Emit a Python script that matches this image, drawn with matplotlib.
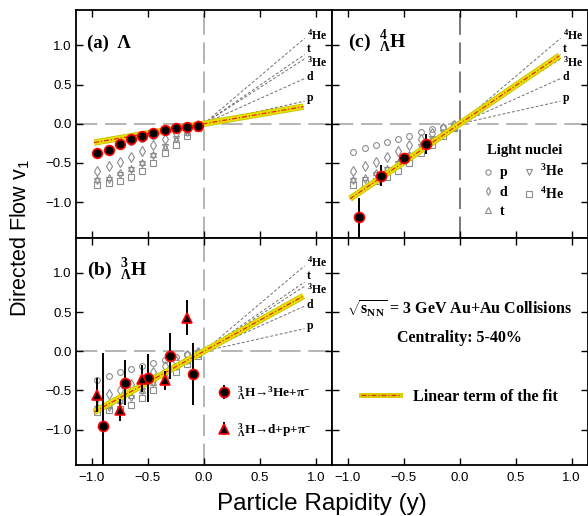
import matplotlib
matplotlib.use('Agg')
import matplotlib.pyplot as plt
from matplotlib.lines import Line2D
import numpy as np

plt.rcParams['mathtext.fontset'] = 'custom'
plt.rcParams['mathtext.rm'] = 'Liberation Serif:bold'
plt.rcParams['mathtext.it'] = 'Liberation Serif:bold'
plt.rcParams['mathtext.bf'] = 'Liberation Serif:bold'
plt.rcParams['mathtext.sf'] = 'Liberation Sans'
plt.rcParams['font.family'] = ['Liberation Sans', 'DejaVu Sans']

# ---------------- data ----------------
rapidity = [-0.95, -0.85, -0.75, -0.65, -0.55, -0.45, -0.35, -0.25, -0.15, -0.05]
lambda_v1 = [-0.37, -0.33, -0.26, -0.20, -0.16, -0.12, -0.085, -0.06, -0.04, -0.025]

nuclei_names = ['p', 'd', 't', '$^{3}$He', '$^{4}$He']
p_v1 = [-0.36, -0.31, -0.27, -0.23, -0.19, -0.15, -0.11, -0.07, -0.035, -0.005]
d_v1 = [-0.60, -0.54, -0.49, -0.42, -0.35, -0.27, -0.19, -0.12, -0.05, -0.01]
t_v1 = [-0.70, -0.68, -0.62, -0.56, -0.49, -0.39, -0.29, -0.19, -0.11, -0.04]
he3_v1 = [-0.73, -0.72, -0.65, -0.59, -0.51, -0.41, -0.30, -0.20, -0.12, -0.04]
he4_v1 = [-0.78, -0.75, -0.73, -0.68, -0.60, -0.50, -0.37, -0.27, -0.16, -0.06]

# reference slopes for light nuclei (dashed lines)
ref_slope_p, ref_slope_d, ref_slope_t, ref_slope_he3, ref_slope_he4 = 0.32, 0.64, 0.98, 0.92, 1.21
ref_y_range = [0.0, 0.9]

# 3-Lambda-H
h3_he3_y = [-0.90, -0.70, -0.50, -0.30, -0.10]
h3_he3_v1 = [-0.95, -0.40, -0.34, -0.06, -0.29]
h3_he3_err = [0.93, 0.29, 0.31, 0.29, 0.40]
h3_dp_y = [-0.95, -0.75, -0.55, -0.35, -0.15]
h3_dp_v1 = [-0.56, -0.75, -0.35, -0.37, 0.43]
h3_dp_err = [0.22, 0.14, 0.17, 0.12, 0.22]

# 4-Lambda-H
h4_y = [-0.90, -0.70, -0.50, -0.30]
h4_v1 = [-1.19, -0.66, -0.44, -0.26]
h4_err = [0.25, 0.13, 0.05, 0.13]

# linear term of the fit
fit_slope_lambda, fit_slope_h3, fit_slope_h4 = 0.245, 0.79, 0.975
fit_y_range = [-0.98, 0.89]

xticks = [-1.0, -0.5, 0.0, 0.5, 1.0]
yticks = [-1.0, -0.5, 0.0, 0.5, 1.0]

# ---------------- figure ----------------
fig, axs = plt.subplots(2, 2, figsize=(5.88, 5.16), dpi=100, sharex=True, sharey=True)
fig.subplots_adjust(left=0.129, right=0.9995, bottom=0.0988, top=0.9806, wspace=0, hspace=0)

serif_b = dict(family=['Liberation Serif', 'DejaVu Serif'], weight='bold')
gray = '#8c8c8c'

for ax in axs.flat:
    ax.set_xlim(-1.143, 1.143)
    ax.set_ylim(-1.45, 1.45)
    ax.set_xticks(xticks)
    ax.set_yticks(yticks)
    ax.tick_params(direction='in', top=True, right=True, length=5, width=1.0,
                   labelsize=9.5, colors='black')
    ax.tick_params(axis='y', pad=3)
    ax.tick_params(axis='x', pad=5)
    for s in ax.spines.values():
        s.set_linewidth(1.3)


def nuclei(ax):
    ax.plot(rapidity, p_v1, 'o', ms=4.2, mfc='none', mec=gray, mew=0.8, zorder=2)
    ax.plot(rapidity, d_v1, 'd', ms=4.6, mfc='none', mec=gray, mew=0.8, zorder=2)
    ax.plot(rapidity, t_v1, '^', ms=4.5, mfc='none', mec=gray, mew=0.8, zorder=2)
    ax.plot(rapidity, he3_v1, 'v', ms=4.5, mfc='none', mec=gray, mew=0.8, zorder=2)
    ax.plot(rapidity, he4_v1, 's', ms=4.3, mfc='none', mec=gray, mew=0.8, zorder=2)


def reflines(ax):
    yr = np.array(ref_y_range)
    for sl in [ref_slope_p, ref_slope_d, ref_slope_t, ref_slope_he3, ref_slope_he4]:
        ax.plot(yr, sl * yr, color='#707070', lw=0.7, dashes=(3, 2), zorder=1)
    lab_y = [0.285, 0.553, 0.915, 0.735, 1.075]
    for name, yy in zip(nuclei_names, lab_y):
        ax.text(0.92, yy, name, fontsize=8.5, va='baseline', ha='left', **serif_b)


def zerolines(ax, vcol='#a0a0a0'):
    ax.axhline(0, color='#a0a0a0', lw=1.1, dashes=(14, 5), zorder=0)
    ax.axvline(0, color=vcol, lw=1.1, dashes=(14, 5), zorder=0)


def fitline(ax, slope):
    yr = np.array(fit_y_range)
    ax.plot(yr, slope * yr, color='#c9c400', lw=4.6, solid_capstyle='butt', zorder=3)
    ax.plot(yr, slope * yr, color='#e6e000', lw=3.4, solid_capstyle='butt', zorder=3)
    ax.plot(yr, slope * yr, color='#e8262a', lw=0.9, ls=(0, (4, 1.5, 1, 1.5)), zorder=4)


# (a) Lambda
ax = axs[0, 0]
zerolines(ax)
nuclei(ax)
reflines(ax)
fitline(ax, fit_slope_lambda)
ax.plot(rapidity, lambda_v1, 'o', ms=7, mfc='black', mec='red', mew=1.2, zorder=5)
ax.text(-1.04, 0.97, '(a)  Λ', fontsize=13.5, va='baseline', **serif_b)

# (b) 3-Lambda-H
ax = axs[1, 0]
zerolines(ax)
nuclei(ax)
reflines(ax)
fitline(ax, fit_slope_h3)
eb1 = ax.errorbar(h3_he3_y, h3_he3_v1, yerr=h3_he3_err, fmt='o', ms=7.2, mfc='black', mec='red',
                  mew=1.2, ecolor='black', elinewidth=1.4, capsize=0, zorder=5)
eb2 = ax.errorbar(h3_dp_y, h3_dp_v1, yerr=h3_dp_err, fmt='^', ms=7.8, mfc='black', mec='red',
                  mew=1.2, ecolor='black', elinewidth=1.4, capsize=0, zorder=5)
ax.text(-1.04, 0.98, r'(b)  $^{3}_{\Lambda}$H', fontsize=14, va='baseline', **serif_b)
leg = ax.legend([eb1, eb2],
                [r'$^{3}_{\Lambda}$H→$^{3}$He+π$^{-}$', r'$^{3}_{\Lambda}$H→d+p+π$^{-}$'],
                loc='center left', bbox_to_anchor=(0.552, 0.235), frameon=False,
                borderpad=0, borderaxespad=0, handlelength=1.0, handletextpad=0.5,
                labelspacing=1.45, prop=dict(size=9.5, **serif_b))

# (c) 4-Lambda-H
ax = axs[0, 1]
zerolines(ax, vcol='#555555')
nuclei(ax)
reflines(ax)
fitline(ax, fit_slope_h4)
ax.errorbar(h4_y, h4_v1, yerr=h4_err, fmt='o', ms=7.2, mfc='black', mec='red',
            mew=1.2, ecolor='black', elinewidth=1.4, capsize=0, zorder=5)
ax.text(-1.0, 0.98, r'(c)  $^{4}_{\Lambda}$H', fontsize=14, va='baseline', **serif_b)
nh = [Line2D([], [], ls='none', marker=m, ms=ms, mfc='none', mec=gray, mew=0.8)
      for m, ms in [('o', 3.8), ('d', 4.2), ('^', 4.0), ('v', 4.0), ('s', 3.8)]]
leg2 = ax.legend(nh, nuclei_names, ncol=2, loc='upper left', bbox_to_anchor=(0.595, 0.41),
                 frameon=False, borderpad=0, borderaxespad=0, handlelength=0.6,
                 handletextpad=0.5, labelspacing=0.45, columnspacing=1.3,
                 title='Light nuclei', prop=dict(size=10, **serif_b))
leg2.get_title().set_fontsize(10.5)
leg2.get_title().set_fontfamily(['Liberation Serif', 'DejaVu Serif'])
leg2.get_title().set_fontweight('bold')

# (d) text panel
ax = axs[1, 1]
ax.text(0.5, 0.689, r'$\sqrt{s_{\rm NN}}$ = 3 GeV Au+Au Collisions', transform=ax.transAxes,
        ha='center', va='center', fontsize=11.5, **serif_b)
ax.text(0.5, 0.558, 'Centrality: 5-40%', transform=ax.transAxes,
        ha='center', va='center', fontsize=11.5, **serif_b)
h_y = Line2D([], [], color='#d8d200', lw=3.6)
h_r = Line2D([], [], color='#e8262a', lw=0.9, ls=(0, (4, 1.5, 1, 1.5)))
ax.legend([(h_y, h_r)], ['Linear term of the fit'], loc='center left',
          bbox_to_anchor=(0.116, 0.30), frameon=False, borderpad=0, borderaxespad=0,
          handlelength=2.4, handletextpad=0.8, prop=dict(size=11.5, **serif_b))

fig.text(0.034, 0.538, r'Directed Flow v$_{\mathsf{1}}$', rotation=90, ha='center', va='center',
         fontsize=15.5, family=['Liberation Sans', 'DejaVu Sans'])
fig.text(0.547, 0.023, 'Particle Rapidity (y)', ha='center', va='center', fontsize=17.5,
         family=['Liberation Sans', 'DejaVu Sans'])

fig.savefig('out.png', dpi=100)
